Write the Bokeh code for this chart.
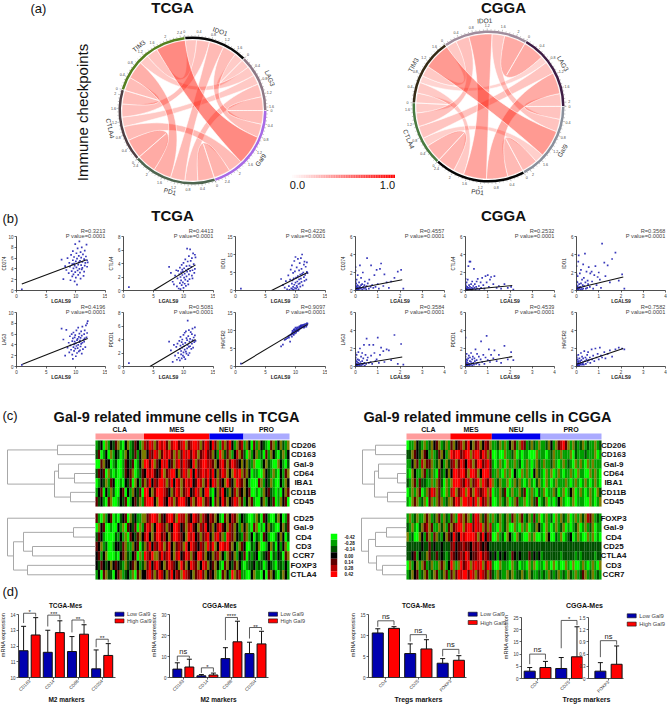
import math
import numpy as np
from bokeh.embed import file_html
from bokeh.resources import INLINE
from bokeh.plotting import figure
from bokeh.layouts import column
from bokeh.models import (ColumnDataSource, FixedTicker, Range1d, Whisker, TeeHead, LinearAxis)

FONT = "Liberation Sans"

# ---------------------------------------------------------------- data: chord panels
GENES = ["IDO1", "LAG3", "Gal9", "PD1", "CTLA4", "TIM3"]
TCGA_CORR = {(0, 1): .28, (0, 2): .42, (0, 3): .45, (0, 4): .40, (0, 5): .35,
             (1, 2): .42, (1, 3): .40, (1, 4): .30, (1, 5): .30,
             (2, 3): .51, (2, 4): .44, (2, 5): .91,
             (3, 4): .60, (3, 5): .55, (4, 5): .42}
CGGA_CORR = {(0, 1): .60, (0, 2): .36, (0, 3): .65, (0, 4): .38, (0, 5): .30,
             (1, 2): .36, (1, 3): .60, (1, 4): .35, (1, 5): .20,
             (2, 3): .45, (2, 4): .25, (2, 5): .76,
             (3, 4): .50, (3, 5): .30, (4, 5): .28}
TCGA_COLORS = ["#0a0a0a", "#8d7885", "#a86ae6", "#4f6650", "#4f3f44", "#55801f"]
CGGA_COLORS = ["#a08c9c", "#3f1d45", "#8a909c", "#050505", "#4a7a40", "#352a15"]
TCGA_START = -6.0
CGGA_START = -35.0

# ---------------------------------------------------------------- data: scatter panels
TCGA_LGALS9 = [0.9,7.6,7.9,8.2,8.4,8.6,8.8,8.9,9.0,9.1,9.2,9.3,9.4,9.4,9.5,9.5,9.6,9.6,9.7,9.7,9.8,9.8,9.9,9.9,10.0,10.0,10.1,10.1,10.2,10.2,10.3,10.3,10.4,10.4,10.5,10.5,10.6,10.6,10.7,10.7,10.8,10.8,10.9,10.9,11.0,11.0,11.1,11.1,11.2,11.3,11.4,11.4,11.5,11.5,11.6,11.7,11.8,11.9,11.9,12.0]
TCGA_CD274 = [0.2,5.7,2.1,4.5,3.8,6.0,3.2,5.1,4.4,1.9,6.6,3.6,4.9,2.6,5.6,7.3,4.1,3.0,6.2,5.0,1.7,4.6,8.6,3.4,5.4,2.4,6.9,4.3,1.1,5.9,3.7,7.8,4.8,2.9,6.4,5.2,9.1,4.0,3.3,5.5,7.1,2.2,4.7,6.1,3.9,8.0,5.3,4.2,6.7,2.7,5.8,3.5,7.4,4.6,5.1,6.3,8.5,4.4,5.6,5.2]
TCGA_CTLA4 = [0.5,3.5,2.6,1.3,0.9,2.2,3.0,0.6,1.8,2.9,0.3,2.4,1.1,3.4,2.0,0.2,2.7,1.5,3.8,0.8,2.3,3.1,1.2,2.8,0.4,4.1,1.9,3.3,1.0,2.5,4.6,1.6,3.0,0.7,3.6,2.1,6.2,2.8,1.4,4.3,3.2,0.9,5.1,2.4,3.7,1.7,6.1,2.9,4.4,3.5,2.2,4.8,3.0,1.8,5.5,3.9,2.6,5.3,3.2,4.9]
TCGA_IDO1 = [0.5,3.2,1.5,0.8,2.6,0.3,4.2,1.2,0.2,3.0,5.8,0.6,1.9,7.0,0.4,2.8,1.0,4.9,0.2,3.4,8.2,1.6,0.7,5.3,2.2,9.3,0.5,3.6,1.3,6.4,2.5,0.9,8.8,4.0,1.8,0.3,5.6,3.1,7.6,2.0,4.4,1.1,9.0,3.3,6.0,2.4,10.0,4.6,1.4,5.0,7.2,3.7,2.7,8.0,4.3,6.6,3.0,5.2,7.8,4.8]
TCGA_LAG3 = [0.3,7.0,5.0,2.0,6.8,3.5,4.4,2.6,5.6,3.9,3.1,6.0,4.7,2.2,5.2,1.4,3.6,6.3,4.1,2.9,5.4,4.6,3.3,5.8,1.9,4.3,3.8,6.7,2.5,4.9,5.1,3.4,7.2,4.0,5.5,2.8,4.5,6.1,3.0,4.8,3.7,5.3,6.5,4.2,2.4,5.7,4.4,7.4,3.2,5.0,6.0,4.6,6.7,5.2,3.6,7.6,5.4,8.0,6.2,8.4]
TCGA_PDCD1 = [0.5,3.7,2.4,0.7,3.2,1.6,2.9,1.0,3.4,2.0,1.3,3.8,2.6,0.9,3.1,4.4,1.8,2.3,3.6,1.2,2.8,4.0,1.6,3.3,2.1,4.7,1.4,3.0,5.0,2.5,1.1,3.5,5.2,2.2,4.2,1.9,3.9,2.7,6.8,3.2,1.7,4.5,2.9,5.4,3.7,2.0,4.1,3.0,5.1,2.6,3.4,4.8,3.9,5.6,2.8,4.3,3.6,5.8,4.6,3.8]
TCGA_HAVCR2 = [0.8,5.6,6.1,7.4,7.6,7.9,8.3,8.0,8.6,6.9,8.8,8.9,9.2,8.3,9.4,9.9,9.0,9.6,10.2,8.8,9.5,10.4,9.2,9.9,10.0,10.8,9.4,10.3,9.8,10.6,10.1,10.9,9.9,10.4,10.7,10.0,11.1,10.3,10.9,10.5,11.3,10.6,11.0,11.4,10.7,11.2,10.9,11.5,11.1,11.6,10.8,11.3,11.7,11.0,11.4,11.8,11.1,12.0,11.5,11.9]

CGGA_LGALS9 = [0,0,0,0,0.01,0.02,0.03,0.04,0.05,0.05,0.06,0.08,0.08,0.1,0.1,0.12,0.13,0.15,0.16,0.18,0.2,0.2,0.22,0.25,0.25,0.28,0.3,0.3,0.33,0.35,0.38,0.4,0.42,0.45,0.48,0.5,0.52,0.55,0.6,0.62,0.68,0.7,0.75,0.8,0.85,0.9,0.95,1.0,1.05,1.1,1.15,1.25,1.3,1.4,1.5,1.6,1.75,1.9,2.05,2.15]
CGGA_CD274 = [2.6,1.0,0.1,2.2,0.5,0.3,0.8,0.2,1.2,0.1,0.4,0.6,0.1,0.3,1.7,0.2,0.5,0.1,0.9,0.3,2.8,0.4,0.2,0.6,1.4,0.3,0.1,0.7,2.0,0.4,0.2,0.6,1.0,0.3,0.1,0.5,3.6,0.8,0.2,1.2,0.4,2.8,0.6,0.3,1.7,0.4,2.3,0.7,0.2,2.4,3.0,0.5,1.8,0.9,0.3,1.0,1.4,2.1,2.3,0.2]
CGGA_CTLA4 = [0.7,0.2,0.0,1.3,0.3,0.1,0.5,0.0,0.9,0.1,0.2,0.4,0.0,1.2,0.1,0.3,2.7,0.1,0.6,3.2,0.2,0.4,3.2,0.1,0.7,0.3,1.0,0.1,0.2,0.5,2.4,0.3,0.7,0.1,0.4,1.0,0.2,1.3,0.5,0.1,0.9,0.3,1.4,0.6,0.2,1.6,0.9,1.7,0.4,1.2,1.5,0.7,1.6,0.3,0.5,0.2,0.7,0.3,0.4,0.1]
CGGA_IDO1 = [2.7,1.8,0.2,0.6,1.0,0.1,0.4,0.9,0.2,1.6,0.5,0.1,3.2,0.3,3.9,0.7,0.2,1.9,0.4,0.1,0.8,2.3,0.3,1.2,0.1,0.6,2.9,0.2,1.4,0.5,4.1,0.9,0.2,2.1,0.3,1.1,0.7,2.6,0.4,1.9,2.1,1.0,0.2,1.7,2.7,0.6,1.5,2.0,1.2,0.3,5.2,3.1,1.6,2.8,0.9,3.5,4.2,1.1,1.8,0.2]
CGGA_LAG3 = [1.5,0.8,0.1,0.4,1.0,0.2,0.1,0.6,0.3,1.3,0.1,0.5,0.2,0.8,0.1,0.4,1.6,0.2,0.7,0.1,0.3,2.0,0.5,1.1,0.1,0.3,1.5,0.6,0.2,0.9,2.4,0.4,0.1,1.3,0.3,3.1,0.7,1.0,0.4,2.4,0.5,1.2,0.3,2.4,1.5,0.6,0.8,3.2,0.4,1.3,2.1,1.7,0.5,1.9,1.8,0.7,3.5,0.3,2.5,0.2]
CGGA_PDCD1 = [3.2,0.6,0.2,1.1,0.4,0.1,0.8,0.3,0.1,1.4,0.5,0.2,0.7,0.1,0.4,0.9,0.2,1.2,0.3,0.1,0.6,1.0,0.2,0.5,1.5,0.3,0.8,0.1,1.1,0.4,0.2,0.9,0.6,1.9,0.3,0.7,1.4,0.4,1.1,0.2,0.8,2.8,0.5,1.3,0.3,1.0,3.4,0.7,1.9,0.5,1.3,0.9,1.8,0.6,1.3,0.4,2.3,0.8,1.6,0.7]
CGGA_HAVCR2 = [1.2,0.7,0.1,0.3,1.0,0.2,0.5,0.1,0.8,0.3,0.1,0.6,1.3,0.2,0.4,0.1,0.9,0.3,0.6,0.2,1.5,0.4,0.7,0.2,1.1,0.3,0.5,0.9,0.2,1.7,0.6,1.0,0.3,0.8,1.3,0.5,1.6,0.7,1.0,0.4,1.9,0.8,1.2,0.6,2.0,1.0,1.4,0.8,2.1,1.2,1.0,1.6,0.9,1.4,1.8,1.1,1.9,2.1,2.0,1.9]

SCATTER_NAMES = ["CD274", "CTLA4", "IDO1", "LAG3", "PDCD1", "HAVCR2"]
TCGA_YS = [TCGA_CD274, TCGA_CTLA4, TCGA_IDO1, TCGA_LAG3, TCGA_PDCD1, TCGA_HAVCR2]
CGGA_YS = [CGGA_CD274, CGGA_CTLA4, CGGA_IDO1, CGGA_LAG3, CGGA_PDCD1, CGGA_HAVCR2]
TCGA_R = ["0.3213", "0.4413", "0.4226", "0.4196", "0.5081", "0.9097"]
CGGA_R = ["0.4557", "0.2532", "0.3568", "0.3584", "0.4539", "0.7582"]
TCGA_FIT = [((0.9, 1.2), (11.8, 5.7)), ((5.0, 0.0), (12.0, 3.8)), ((6.0, 0.0), (12.0, 5.0)),
            ((1.0, 0.4), (12.0, 5.2)), ((4.4, 0.0), (12.0, 4.0)), ((1.0, 0.7), (12.0, 11.7))]
CGGA_FIT = [((0, 0.2), (2.1, 1.2)), ((0, 0.05), (2.1, 0.55)), ((0, 0.25), (2.1, 1.5)),
            ((0, 0.2), (2.1, 1.05)), ((0, 0.2), (2.1, 1.1)), ((0, 0.25), (2.1, 2.0))]
TCGA_YMAX = [10, 8, 15, 10, 8, 15]
TCGA_YSTEP = [2, 2, 5, 2, 2, 5]

# ---------------------------------------------------------------- data: heatmaps
# level per sample: 0 bright green ... 3 black ... 6 bright red, 7 mixed olive; groups split by spaces
GROUPS = ["CLA", "MES", "NEU", "PRO"]
GROUP_COLORS = ["#ff9c9c", "#ff0000", "#0000ee", "#aaaaff"]
TCGA_GROUP_N = [20, 27, 14, 19]
CGGA_GROUP_N = [18, 17, 20, 25]
TCGA_TOP_LABELS = ["CD206", "CD163", "Gal-9", "CD64", "IBA1", "CD11B", "CD45"]
TCGA_BOT_LABELS = ["CD25", "Gal-9", "CD4", "CD3", "CCR7", "FOXP3", "CTLA4"]
CGGA_TOP_LABELS = ["CD206", "CD163", "Gal-9", "CD64", "IBA1", "CD11B", "CD45"]
CGGA_BOT_LABELS = ["FOXP3", "Gal-9", "CD4", "CD25", "CTLA4", "CD3", "CCR7"]
TCGA_TOP = [
 "12307132471037124317 546574656475664567456657465 36471574631745 1730417321047137217",
 "24013071320173124137 735465746564757465646574564 47316724713574 2071371204173102713",
 "00473301200143240137 664674365634756465436745665 54735647465437 3721700137210073102",
 "24340710100143470124 365643467456637465763645656 46374657376567 4730110073217103147",
 "01327143001032407314 746354665746365746563465746 36574376437654 7310004713271003173",
 "13403172003403173240 663746665437465745634657366 10374632735743 7340010173421010374",
 "42310470013240134271 566637664365746664357466745 30473647346574 1374100371324017340"]
TCGA_BOT = [
 "41071340102340723117 745665743566476557436547543 54731047354713 2100172043100273014",
 "07340010031704324071 465736654743665347564375463 47356437547317 3710470103721003724",
 "24310000213170432473 563746645374665437656347456 37564716547321 4713021043100137302",
 "43712001332471173402 746354657463745476365435476 46736656473174 3002137001372031370",
 "34137000103472134071 654677464563756346574366473 37457317437132 4021230123402132047",
 "32432373432172347312 746356437465437647365473657 34731047324731 0122312201321022131",
 "13047220347123170473 356474653746354765437456473 43710473167451 1003711030473102731"]
CGGA_TOP = [
 "011732171273471271 47345746374573547 11271713741754127217 1127317456471721271211712",
 "227432743171247317 65664566756646574 00100711270101100071 1101271171117021112111701",
 "113741574471273172 45746536574664564 10171071171201710172 1711271017121071710717111",
 "107311741271042137 36656647665736664 11710717031071710372 1071701710117107110071710",
 "217414221171742071 76665465745676546 71271170172710171027 1071017111710171017101710",
 "017174017465741071 56745676476545675 01172401711724017102 1701172017013701710171072",
 "107471270471747127 74657665646764574 00171270174117017240 1270101371001701110071017"]
CGGA_BOT = [
 "171271174712741721 47165747146572471 71271271471741271417 0171207172170171727547121",
 "217102745741172714 74566756646567475 11071270071071701273 1071017127010127017127011",
 "712007314714721374 36436566665746354 00712073107210071700 1073002170123017100717010",
 "222222322423223222 45344544354543432 22222222222222222222 2222222222222222222222222",
 "223413227422423212 54345465344564543 23132321432322242323 1222222212222212122222122",
 "071371741271174713 67176456756567465 10071110712011071701 1071070100710700171017107",
 "127341274127412741 47465664657465474 21721172712272172112 1217212712172171247127121"]
HEAT_PALETTE = ["#00ff00", "#00a000", "#005000", "#000000", "#600000", "#b00000", "#ff0000", "#7c7c00"]
HEAT_TICKS = ["-0.42", "-0.28", "-0.14", "0.00", "0.14", "0.28", "0.42"]
# dendrograms: (left, right, merge height); ints are row indices
TCGA_TOP_TREE = ((0, 1, 38), ((2, (3, 4, 21), 37), (5, 6, 25), 41), 88)
TCGA_BOT_TREE = (0, (((1, 2, 22), (3, 4, 63), 72), (5, 6, 68), 82), 88)
CGGA_TOP_TREE = ((0, 1, 31), ((2, (3, 4, 9), 28), (5, 6, 19), 32), 44)
CGGA_BOT_TREE = (0, (((1, 2, 20), 3, 31), (4, (5, 6, 24), 30), 38), 45)

# ---------------------------------------------------------------- data: bar charts
LEGEND_LABELS = ["Low Gal9", "High Gal9"]
LEGEND_COLORS = ["#0000b0", "#ff0000"]
M2_CATS = ["CD163", "CD14", "CD68", "CD204"]
TM2_LOW = [11.7, 11.6, 11.65, 10.55]
TM2_HIGH = [12.7, 12.85, 12.75, 11.4]
TM2_LOW_ERR = [13.25, 13.0, 12.6, 11.75]
TM2_HIGH_ERR = [13.8, 13.6, 13.35, 12.15]
TM2_SIG = ["*", "***", "**", "**"]
TM2_BRACKET = [14.08, 13.96, 13.65, 12.43]
CM2_LOW = [4.0, 0.8, 9.0, 11.4]
CM2_HIGH = [5.0, 1.2, 17.0, 16.0]
CM2_LOW_ERR = [7.0, 1.4, 14.2, 16.8]
CM2_HIGH_ERR = [8.7, 2.1, 26.8, 22.0]
CM2_SIG = ["ns", "*", "****", "**"]
CM2_BRACKET = [10.2, 4.6, 28.6, 23.8]
TR_CATS = ["CD4", "CD25", "FOXP3"]
TTR_LOW = [10.6, 5.7, 3.4]
TTR_HIGH = [11.7, 6.8, 4.1]
TTR_LOW_ERR = [11.6, 8.0, 4.5]
TTR_HIGH_ERR = [12.1, 9.0, 5.2]
TTR_SIG = ["ns", "ns", "ns"]
TTR_BRACKET = [13.5, 10.2, 6.7]
C1_CATS = ["CD4", "CD25"]
C1_LOW = [3.0, 4.1]
C1_HIGH = [4.5, 8.9]
C1_LOW_ERR = [4.5, 8.6]
C1_HIGH_ERR = [7.0, 21.2]
C1_SIG = ["ns", "*"]
C1_BRACKET = [10.0, 23.8]
C2_CATS = ["FOXP3"]
C2_LOW = [0.18]
C2_HIGH = [0.35]
C2_LOW_ERR = [0.39]
C2_HIGH_ERR = [0.80]
C2_SIG = ["ns"]
C2_BRACKET = [0.93]

# ---------------------------------------------------------------- helpers
PAD = 40


def place(left, top):
    return {"position": "absolute", "left": f"{left}px", "top": f"{top}px"}


def base_fig(left, top, w, h, xr, yr, ml=0, mr=0, mt=0, mb=0, axes=True):
    # the left border is kept at PAD so that the plot frame lands on a known pixel;
    # the root is shifted left by PAD, so children are placed at frame_left
    fw, fh = w - ml - mr, h - mt - mb
    left = left + ml
    w = PAD + fw + mr
    kw = {} if axes else dict(x_axis_location=None, y_axis_location=None)
    p = figure(width=w, height=h, frame_width=fw, frame_height=fh,
               x_range=xr, y_range=yr, tools="", toolbar_location=None,
               output_backend="svg", background_fill_color=None, border_fill_color=None,
               outline_line_color=None, min_border_left=PAD, min_border_right=mr,
               min_border_top=mt, min_border_bottom=mb, styles=place(left, top), **kw)
    p.grid.visible = False
    return p


def frame_fig(left, right, top, bottom, xr, yr, ml=24, mr=8, mt=14, mb=24, axes=True):
    return base_fig(left - ml, top - mt, ml + right - left + mr, mt + bottom - top + mb,
                    Range1d(*xr), Range1d(*yr), ml, mr, mt, mb, axes)


def style_axis(ax, ticks, size="4.5px", label=None, lsize="5px", lstyle="bold"):
    ax.ticker = FixedTicker(ticks=ticks)
    ax.major_tick_out, ax.major_tick_in = 2, 0
    ax.minor_tick_out, ax.minor_tick_in = 0, 0
    ax.axis_line_color = "#222222"
    ax.major_tick_line_color = "#222222"
    ax.axis_line_width = 0.8
    ax.major_tick_line_width = 0.7
    ax.major_label_text_font = FONT
    ax.major_label_text_font_size = size
    ax.major_label_text_color = "#333333"
    ax.major_label_standoff = 1
    ax.axis_label_standoff = 1
    if label:
        ax.axis_label = label
        ax.axis_label_text_font = FONT
        ax.axis_label_text_font_size = lsize
        ax.axis_label_text_font_style = lstyle
        ax.axis_label_text_color = "#222222"


# ---------------------------------------------------------------- page text layer
page = base_fig(0, 0, 667, 704, Range1d(0, 667), Range1d(704, 0), axes=False)


def page_text(t, x, y, s, st="normal", al="center", an=0, color="#111111"):
    page.text([x], [y], text=[t], text_font_size=s, text_font_style=st, text_align=al, text_baseline="middle",
              text_font={"value": FONT}, text_color=color, angle=math.radians(an))


# ---------------------------------------------------------------- chord panel
def chord(cx, cy, R, corr, colors, start_deg, late_links):
    half = 106
    rng = (-half, half)
    p = base_fig(round(cx - half), round(cy - half), 2 * half, 2 * half, Range1d(*rng), Range1d(*rng), axes=False)
    n = len(GENES)
    val = lambda a, b: corr[(min(a, b), max(a, b))]
    totals = [sum(val(i, j) for j in range(n) if j != i) for i in range(n)]
    deg = 360.0 / sum(totals)
    pos = {}
    starts = []
    th = start_deg
    for i in range(n):
        order = [(i - k) % n for k in range(1, n)]
        for t in late_links.get(i, []):
            order.remove(t)
            order.append(t)
        a = th
        for j in order:
            b = a + val(i, j) * deg
            pos[(i, j)] = (a, b)
            a = b
        starts.append(th)
        th += totals[i] * deg

    def polar(t, r):
        return r * math.sin(math.radians(t)), r * math.cos(math.radians(t))

    def arc(a, b, r, m=14):
        return [polar(a + (b - a) * k / m, r) for k in range(m + 1)]

    def bez(p0, p1, m=24):
        out = []
        for k in range(1, m):
            u = k / m
            s = (1 - u) ** 2
            e = u ** 2
            out.append((s * p0[0] + e * p1[0], s * p0[1] + e * p1[1]))
        return out

    ri = R - 3.5
    xs, ys, alphas = [], [], []
    for (a, b), v in sorted(corr.items(), key=lambda kv: kv[1]):
        a0, a1 = pos[(a, b)]
        b0, b1 = pos[(b, a)]
        A = arc(a0, a1, ri)
        B = arc(b0, b1, ri)
        pts = A + bez(A[-1], B[0]) + B + bez(B[-1], A[0])
        xs.append([q[0] for q in pts])
        ys.append([q[1] for q in pts])
        alphas.append(0.10 + 0.45 * v)
    p.patches("xs", "ys", source=ColumnDataSource(dict(xs=xs, ys=ys, a=alphas)),
              fill_color="#ff1a0a", fill_alpha="a", line_color="#ffffff", line_width=0.6)
    # sector bands, ticks, labels
    for i in range(n):
        a, b = starts[i], starts[i] + totals[i] * deg
        p.annular_wedge(0, 0, inner_radius=R - 2.5, outer_radius=R,
                        start_angle=math.radians(90 - a - 0.3), end_angle=math.radians(90 - b + 0.3),
                        direction="clock", fill_color=colors[i], line_color=None)
        tx0, ty0, tx1, ty1, lx, ly, lt = [], [], [], [], [], [], []
        k = 0
        while k * 0.1 <= totals[i] + 1e-6:
            t = a + k * 0.1 * deg
            major = k % 4 == 0
            q0, q1 = polar(t, R), polar(t, R + (2.0 if major else 1.2))
            tx0.append(q0[0]); ty0.append(q0[1]); tx1.append(q1[0]); ty1.append(q1[1])
            if major:
                q = polar(t, R + 5)
                lx.append(q[0]); ly.append(q[1]); lt.append(f"{k * 0.1:.1f}".rstrip("0").rstrip("."))
            k += 1
        p.segment(tx0, ty0, tx1, ty1, line_color="#666666", line_width=0.4)
        p.text(lx, ly, text=lt, text_font_size="3.6px", text_color="#444444", text_font={"value": FONT},
               text_align="center", text_baseline="middle")
        mid = (a + b) / 2
        q = polar(mid, R + 10)
        m = mid % 360
        ang = -m if (m < 90 or m > 270) else 180 - m
        p.text([q[0]], [q[1]], text=[GENES[i]], text_font_size="6.5px", text_color="#333333",
               text_font={"value": FONT}, text_align="center", text_baseline="middle",
               angle=math.radians(ang))
    return p


# ---------------------------------------------------------------- scatter panel
def scatter(left, right, top, bottom, xs, ys, name, r, fit, xmax, xticks, ymax, yticks):
    extra = 12
    y1 = ymax + extra * ymax / (bottom - top)
    p = frame_fig(left, right, top - extra, bottom, (0, xmax), (0, y1), ml=26, mr=2, mt=0, mb=18)
    n = min(len(xs), len(ys))
    p.scatter(xs[:n], ys[:n], size=1.7, marker="square", fill_color="#2424b4", fill_alpha=0.9, line_color=None)
    p.line([fit[0][0], fit[1][0]], [fit[0][1], fit[1][1]], line_color="#111111", line_width=1.1)
    style_axis(p.xaxis[0], xticks)
    style_axis(p.yaxis[0], yticks)
    p.yaxis[0].bounds = (0, ymax)
    page_text("LGALS9", (left + right) / 2, bottom + 10.5, "5px", "bold", color="#222222")
    page_text(name, left - 12, (top + bottom) / 2, "4.5px", an=90, color="#222222")
    for txt, off in ((f"R={r}", -6), ("P value=0.0001", -0.5)):
        p.text([xmax], [ymax], text=[txt], y_offset=off, text_align="right", text_baseline="middle",
               text_font={"value": FONT}, text_font_size="5.7px", text_color="#444444")
    return p


# ---------------------------------------------------------------- heatmap panel
def heatmap(fig_left, fig_right, hx0, hx1, counts, top_rows, bot_rows, top_labels, bot_labels,
            top_tree, bot_tree, label_dx):
    ncol = sum(counts)
    ppc = (hx1 - hx0) / ncol
    row_h = 66 / 7
    fig_top, fig_bot = 422, 582
    heat_top = 440
    xr = ((fig_left - hx0) / ppc, (fig_right - hx0) / ppc)
    yr = ((fig_bot - heat_top) / row_h, (fig_top - heat_top) / row_h)
    p = base_fig(fig_left, fig_top, fig_right - fig_left, fig_bot - fig_top, Range1d(*xr), Range1d(*yr), axes=False)
    gap = 7 / row_h
    offs = [0, 7 + gap]
    rx, ry, rw, rc = [], [], [], []
    for block, rows in enumerate((top_rows, bot_rows)):
        for r, row in enumerate(rows):
            st = 0
            for seg, cnt in zip(row.split(), counts):
                w = cnt / len(seg)
                for k, ch in enumerate(seg):
                    rx.append(st + (k + 0.5) * w)
                    ry.append(offs[block] + r + 0.5)
                    rw.append(w)
                    rc.append(HEAT_PALETTE[int(ch)])
                st += cnt
    p.rect("x", "y", "w", 1.0, source=ColumnDataSource(dict(x=rx, y=ry, w=rw, c=rc)),
           fill_color="c", line_color="c", line_width=0.1)
    st = 0
    for g, cnt, col in zip(GROUPS, counts, GROUP_COLORS):
        p.quad(left=st, right=st + cnt, top=-0.75, bottom=-0.1, fill_color=col, line_color=None)
        p.text([st + cnt / 2], [-1.15], text=[g], text_font_size="7px", text_font={"value": FONT},
               text_font_style="bold", text_align="center", text_baseline="middle", text_color="#111111")
        st += cnt

    def tree(node, off, lx, ly):
        if isinstance(node, int):
            return off + node + 0.5, 0.0
        y0, h0 = tree(node[0], off, lx, ly)
        y1, h1 = tree(node[1], off, lx, ly)
        h = node[2] / ppc
        lx += [[-h0, -h], [-h1, -h], [-h, -h]]
        ly += [[y0, y0], [y1, y1], [y0, y1]]
        return (y0 + y1) / 2, h

    lx, ly = [], []
    tree(top_tree, offs[0], lx, ly)
    tree(bot_tree, offs[1], lx, ly)
    p.multi_line(lx, ly, line_color="#a8a8a8", line_width=1)
    for off, labs in zip(offs, (top_labels, bot_labels)):
        p.text([ncol + label_dx / ppc] * 7, [off + i + 0.5 for i in range(7)], text=labs,
               text_font_size="8px", text_font={"value": FONT}, text_font_style="bold",
               text_color="#111111", text_align="center", text_baseline="middle")
    return p


# ---------------------------------------------------------------- bar panel
def bars(left, right, top, bottom, xr, ymin, ymax, yticks, cats, low, high, low_err, high_err,
         sig, bracket, bw, off, ylabel=None, head=5, ns_size="7.5px"):
    extra = 22
    fh = bottom - top
    y1 = ymax + extra * (ymax - ymin) / fh
    p = frame_fig(left, right, top - extra, bottom, xr, (ymin, y1), ml=26, mr=4, mt=2, mb=27)
    xl = [i - off for i in range(len(cats))]
    xh = [i + off for i in range(len(cats))]
    p.vbar(xl, bw, low, ymin, fill_color=LEGEND_COLORS[0], line_color="#111111", line_width=1)
    p.vbar(xh, bw, high, ymin, fill_color=LEGEND_COLORS[1], line_color="#111111", line_width=1)
    for xx, v, e in ((xl, low, low_err), (xh, high, high_err)):
        p.add_layout(Whisker(source=ColumnDataSource(dict(x=xx, l=v, u=e)), base="x", lower="l", upper="u",
                             line_color="#111111", line_width=1, lower_head=None,
                             upper_head=TeeHead(size=head, line_color="#111111", line_width=1)))
    bx, by = [], []
    for i in range(len(cats)):
        bx.append([xl[i], xl[i], xh[i], xh[i]])
        by.append([low_err[i] + (bracket[i] - low_err[i]) * 0.25, bracket[i], bracket[i],
                   high_err[i] + (bracket[i] - high_err[i]) * 0.25])
    p.multi_line(bx, by, line_color="#333333", line_width=0.8)
    for i, s in enumerate(sig):
        p.text([i], [bracket[i]], text=[s], text_font_size=ns_size if s == "ns" else "6px",
               text_font={"value": FONT}, text_align="center", text_baseline="bottom", text_color="#222222",
               y_offset=0 if s == "ns" else 2)
    style_axis(p.xaxis[0], list(range(len(cats))))
    p.xaxis[0].major_label_overrides = {i: c for i, c in enumerate(cats)}
    p.xaxis[0].major_label_orientation = math.pi / 4
    style_axis(p.yaxis[0], yticks, label=ylabel, lsize="5.5px", lstyle="normal")
    p.yaxis[0].bounds = (ymin, ymax)
    return p


PAGE_TEXT = [
    ("(a)", 30, 8, "13px", "normal", "left", 0), ("TCGA", 172, 7, "15px", "bold", "center", 0),
    ("CGGA", 503, 7, "15px", "bold", "center", 0), ("Immune checkpoints", 82, 112, "15px", "normal", "center", 90),
    ("0.0", 297, 184, "11px", "normal", "center", 0), ("1.0", 387, 184, "11px", "normal", "center", 0),
    ("(b)", 2, 218, "13px", "normal", "left", 0), ("TCGA", 172, 215, "15px", "bold", "center", 0),
    ("CGGA", 503, 215, "15px", "bold", "center", 0),
    ("(c)", 2, 415, "13px", "normal", "left", 0),
    ("Gal-9 related immune cells in TCGA", 176, 416, "14.5px", "bold", "center", 0),
    ("Gal-9 related immune cells in CGGA", 487, 416, "14.5px", "bold", "center", 0),
    ("(d)", 2, 591, "13px", "normal", "left", 0),
    ("TCGA-Mes", 65, 605, "6.5px", "bold", "center", 0), ("CGGA-Mes", 219, 605, "6.5px", "bold", "center", 0),
    ("TCGA-Mes", 418, 605, "6.5px", "bold", "center", 0), ("CGGA-Mes", 584, 605, "7px", "bold", "center", 0),
    ("M2 markers", 66, 699, "6.5px", "bold", "center", 0), ("M2 markers", 218, 699, "6.5px", "bold", "center", 0),
    ("Tregs markers", 418, 699, "7px", "bold", "center", 0), ("Tregs markers", 586, 699, "7px", "bold", "center", 0),
]
for t, x, y, s, st, al, an in PAGE_TEXT:
    page_text(t, x, y, s, st, al, an)
LEGEND_SPOTS = [(114.5, 611.7, 6.7, "5.5px"), (268, 611.7, 6.7, "5.5px"), (467.7, 611.7, 8.3, "5.8px"), (626.7, 613.3, 8.3, "5.8px")]
for lx, ly, pitch, size in LEGEND_SPOTS:
    for k, (lab, col) in enumerate(zip(LEGEND_LABELS, LEGEND_COLORS)):
        yy = ly + k * pitch
        page.quad(left=lx, right=lx + 9, top=yy, bottom=yy + 4, fill_color=col, line_color="#111111", line_width=0.6)
        page_text(lab, lx + 12, yy + 2, size, al="left", color="#444444")

children = [page]
children.append(chord(192, 110, 74, TCGA_CORR, TCGA_COLORS, TCGA_START, {5: [2]}))
children.append(chord(488.3, 106, 76, CGGA_CORR, CGGA_COLORS, CGGA_START, {5: [2]}))

# gradient key
key = frame_fig(290, 395, 170, 178, (0, 1), (0, 1), ml=0, mr=0, mt=0, mb=0, axes=False)
steps = np.linspace(0, 1, 64)
key.quad(left=steps[:-1], right=steps[1:], top=1, bottom=0,
         fill_color=["#%02x%02x%02x" % (255, int(255 * (1 - v)), int(255 * (1 - v))) for v in steps[:-1]],
         line_color=None)
children.append(key)

# scatter grids
T_COLS = [(16, 105), (123, 213), (235, 325)]
C_COLS = [(355, 444), (465, 554), (576, 665)]
ROWS = [(236, 290), (312, 366)]
for idx in range(6):
    r, c = divmod(idx, 3)
    children.append(scatter(*T_COLS[c], *ROWS[r], TCGA_LGALS9, TCGA_YS[idx], SCATTER_NAMES[idx], TCGA_R[idx],
                            TCGA_FIT[idx], 15, [0, 5, 10, 15], TCGA_YMAX[idx],
                            list(range(0, TCGA_YMAX[idx] + 1, TCGA_YSTEP[idx]))))
    children.append(scatter(*C_COLS[c], *ROWS[r], CGGA_LGALS9, CGGA_YS[idx], SCATTER_NAMES[idx], CGGA_R[idx],
                            CGGA_FIT[idx], 4, [0, 1, 2, 3, 4], 6, [0, 2, 4, 6]))

# heatmaps
children.append(heatmap(0, 328, 95, 289, TCGA_GROUP_N, TCGA_TOP, TCGA_BOT, TCGA_TOP_LABELS, TCGA_BOT_LABELS,
                        TCGA_TOP_TREE, TCGA_BOT_TREE, 14))
children.append(heatmap(355, 640, 406, 601, CGGA_GROUP_N, CGGA_TOP, CGGA_BOT, CGGA_TOP_LABELS, CGGA_BOT_LABELS,
                        CGGA_TOP_TREE, CGGA_BOT_TREE, 12))
hk = frame_fig(330, 337, 533, 577, (0, 1), (7, 0), ml=0, mr=24, mt=0, mb=0, axes=False)
hk.quad(left=0, right=1, top=list(range(7)), bottom=[i + 1 for i in range(7)], fill_color=HEAT_PALETTE[:7], line_color=None)
hax = LinearAxis(ticker=FixedTicker(ticks=[i + 0.5 for i in range(7)]),
                 major_label_overrides={i + 0.5: t for i, t in enumerate(HEAT_TICKS)},
                 axis_line_color=None, major_tick_line_color=None, minor_tick_line_color=None,
                 major_label_text_font=FONT, major_label_text_font_size="4.5px", major_label_text_font_style="bold",
                 major_label_standoff=1, major_label_text_color="#111111")
hk.add_layout(hax, "right")
children.append(hk)

# bars
children.append(bars(18, 115, 614, 677, (-.46, 3.55), 10, 14, [10, 11, 12, 13, 14], M2_CATS, TM2_LOW, TM2_HIGH,
                     TM2_LOW_ERR, TM2_HIGH_ERR, TM2_SIG, TM2_BRACKET, 0.37, 0.25, "mRNA expression"))
children.append(bars(169, 268, 614, 677, (-.575, 3.54), 0, 30, [0, 10, 20, 30], M2_CATS, CM2_LOW, CM2_HIGH,
                     CM2_LOW_ERR, CM2_HIGH_ERR, CM2_SIG, CM2_BRACKET, 0.37, 0.25, "mRNA expression"))
children.append(bars(368, 466, 614, 677, (-.536, 2.485), 0, 15, [0, 5, 10, 15], TR_CATS, TTR_LOW, TTR_HIGH,
                     TTR_LOW_ERR, TTR_HIGH_ERR, TTR_SIG, TTR_BRACKET, 0.34, 0.25, "mRNA expression"))
children.append(bars(521, 582, 617, 678, (-.51, 1.425), 0, 25, [0, 5, 10, 15, 20, 25], C1_CATS, C1_LOW, C1_HIGH,
                     C1_LOW_ERR, C1_HIGH_ERR, C1_SIG, C1_BRACKET, 0.35, 0.25, "mRNA expression"))
children.append(bars(588, 623, 617, 678, (-.64, .48), 0, 1.5, [0, .3, .6, .9, 1.2, 1.5], C2_CATS, C2_LOW, C2_HIGH,
                     C2_LOW_ERR, C2_HIGH_ERR, C2_SIG, C2_BRACKET, 0.35, 0.26))

root = column(*children, width=667 + PAD, height=704, styles={**place(-PAD, 0), "overflow": "hidden"})
open("out.html", "w").write(file_html(root, INLINE))
